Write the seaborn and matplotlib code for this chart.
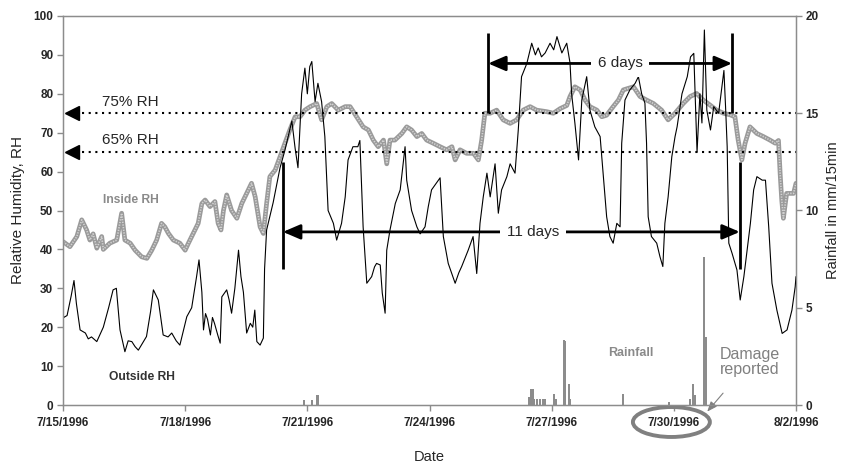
import matplotlib
matplotlib.use("Agg")
import matplotlib.pyplot as plt
from matplotlib.patches import Ellipse
from matplotlib.transforms import blended_transform_factory
import pandas as pd
import seaborn as sns

# ---------------------------------------------------------------------------
# Data (time axis = days elapsed since 7/15/1996 00:00)
# ---------------------------------------------------------------------------
outside_day = [
    0.00, 0.10, 0.20, 0.27, 0.33, 0.42, 0.55, 0.62, 0.70, 0.83, 0.99, 1.12, 1.23,
    1.31, 1.40, 1.52, 1.60, 1.69, 1.77, 1.85, 2.05, 2.15, 2.22, 2.34, 2.46, 2.58,
    2.67, 2.78, 2.87, 3.04, 3.16, 3.28, 3.34, 3.41, 3.45, 3.50, 3.55, 3.62, 3.67,
    3.72, 3.80, 3.86, 3.90, 4.02, 4.08, 4.14, 4.22, 4.31, 4.37, 4.43, 4.51, 4.60,
    4.66, 4.71, 4.76, 4.84, 4.92, 4.95, 5.00, 5.16, 5.33, 5.45, 5.62, 5.70, 5.77,
    5.86, 5.94, 6.00, 6.06, 6.11, 6.19, 6.26, 6.35, 6.43, 6.51, 6.64, 6.72, 6.84,
    6.93, 7.00, 7.12, 7.24, 7.29, 7.37, 7.46, 7.58, 7.65, 7.70, 7.79, 7.84, 7.91,
    7.95, 8.03, 8.16, 8.28, 8.40, 8.44, 8.56, 8.69, 8.77, 8.89, 8.97, 9.05, 9.26,
    9.34, 9.46, 9.63, 9.72, 9.79, 9.95, 10.07, 10.16, 10.24, 10.32, 10.41, 10.49,
    10.61, 10.69, 10.77, 10.90, 10.98, 11.10, 11.18, 11.26, 11.39, 11.51, 11.60,
    11.67, 11.75, 11.84, 11.96, 12.05, 12.13, 12.25, 12.37, 12.45, 12.49, 12.57,
    12.66, 12.74, 12.86, 12.94, 13.06, 13.19, 13.27, 13.35, 13.43, 13.51, 13.60,
    13.68, 13.72, 13.80, 13.92, 14.05, 14.13, 14.21, 14.29, 14.33, 14.37, 14.45,
    14.58, 14.66, 14.73, 14.78, 14.86, 14.95, 15.03, 15.08, 15.20, 15.33, 15.41,
    15.49, 15.57, 15.64, 15.69, 15.75, 15.81, 15.90, 15.98, 16.10, 16.23, 16.27,
    16.31, 16.35, 16.43, 16.55, 16.63, 16.72, 16.80, 16.88, 16.96, 17.04, 17.17,
    17.25, 17.33, 17.41, 17.53, 17.66, 17.78, 17.90, 17.98, 18.00,
]
outside_rh = [
    22.4, 23.0, 28.0, 32.0, 26.0, 19.3, 18.5, 17.0, 17.5, 16.3, 20.0, 25.0, 29.6,
    30.0, 19.3, 13.7, 16.5, 16.3, 15.0, 14.1, 17.6, 24.0, 29.6, 27.0, 18.0, 17.5,
    18.5, 16.5, 15.4, 22.7, 25.0, 33.0, 37.3, 29.0, 19.3, 23.5, 22.0, 18.0, 22.5,
    21.0, 18.0, 15.9, 27.8, 29.6, 27.0, 23.6, 30.0, 39.8, 33.0, 29.0, 18.5, 21.0,
    20.0, 24.4, 16.3, 15.4, 17.2, 35.0, 45.0, 52.0, 61.0, 65.5, 73.0, 66.0, 61.0,
    80.0, 86.6, 80.0, 87.0, 88.3, 78.0, 82.7, 78.0, 69.0, 50.0, 46.7, 42.4, 46.7,
    53.5, 63.0, 66.4, 66.4, 68.0, 45.8, 31.3, 33.0, 35.5, 36.4, 36.0, 28.8, 23.6,
    39.8, 45.0, 51.8, 55.3, 66.4, 57.8, 50.0, 45.8, 44.0, 45.8, 51.0, 55.3, 58.4,
    43.3, 36.4, 31.3, 34.0, 35.6, 39.8, 43.3, 33.8, 46.7, 53.5, 59.6, 53.5,
    62.0, 49.3, 55.3, 58.7, 62.0, 59.6, 70.7, 84.4, 87.8, 93.0, 90.0,
    91.8, 89.5, 90.5, 93.0, 91.3, 94.7, 90.5, 93.0, 88.0, 80.0, 72.5,
    63.0, 78.4, 84.4, 75.8, 71.5, 69.0, 58.7, 48.4, 43.3, 41.6, 46.7,
    45.8, 67.3, 78.4, 81.0, 82.7, 84.4, 80.0, 77.6, 67.3, 48.4, 43.3,
    41.6, 38.1, 35.6, 46.7, 53.5, 63.8, 69.0, 71.5, 80.0, 84.4, 89.5,
    90.4, 65.0, 80.0, 72.5, 96.4, 75.8, 70.7, 76.7, 75.0, 86.0, 76.7,
    66.4, 41.6, 39.0, 34.7, 27.0, 33.0, 39.8, 46.7, 55.3, 58.7, 57.8,
    57.8, 45.8, 31.3, 24.4, 18.4, 19.3, 24.4, 30.4, 33.0,
]

inside_day = [
    0.00, 0.17, 0.34, 0.46, 0.58, 0.66, 0.74, 0.83, 0.95, 0.99, 1.15, 1.32, 1.44,
    1.52, 1.65, 1.77, 1.93, 2.06, 2.18, 2.30, 2.42, 2.50, 2.59, 2.71, 2.87, 3.00,
    3.08, 3.16, 3.32, 3.41, 3.49, 3.61, 3.73, 3.81, 3.88, 3.94, 4.02, 4.14, 4.27,
    4.39, 4.51, 4.63, 4.72, 4.84, 4.92, 5.00, 5.08, 5.21, 5.33, 5.45, 5.57, 5.70,
    5.82, 5.94, 6.07, 6.23, 6.35, 6.48, 6.60, 6.76, 6.93, 7.05, 7.21, 7.37, 7.50,
    7.62, 7.74, 7.87, 7.95, 8.03, 8.15, 8.32, 8.44, 8.56, 8.69, 8.81, 8.93, 9.09,
    9.26, 9.42, 9.55, 9.63, 9.75, 9.91, 10.08, 10.20, 10.28, 10.36, 10.49, 10.65,
    10.81, 10.98, 11.14, 11.30, 11.47, 11.63, 11.88, 12.04, 12.21, 12.37, 12.45,
    12.57, 12.70, 12.82, 12.94, 13.11, 13.23, 13.35, 13.51, 13.64, 13.76, 13.88,
    14.01, 14.17, 14.33, 14.50, 14.70, 14.86, 15.03, 15.23, 15.40, 15.56, 15.72,
    15.89, 16.05, 16.22, 16.38, 16.50, 16.58, 16.67, 16.75, 16.87, 17.04, 17.20,
    17.36, 17.49, 17.57, 17.61, 17.65, 17.69, 17.77, 17.94, 18.00,
]
inside_rh = [
    42.0, 40.7, 43.3, 47.6, 45.0, 42.4, 44.0, 40.3, 43.3, 40.0, 41.6, 42.4, 49.3,
    42.4, 41.6, 39.8, 38.1, 37.7, 39.8, 42.4, 46.7, 45.8, 44.1, 42.4, 41.6, 39.8,
    41.6, 43.3, 46.7, 51.8, 52.7, 51.0, 52.3, 46.7, 45.0, 50.0, 54.0, 50.0, 48.0,
    51.8, 54.4, 57.0, 53.5, 45.8, 44.1, 51.8, 58.7, 60.4, 63.8, 67.3, 70.7, 74.1,
    74.1, 75.8, 76.7, 77.5, 73.3, 76.7, 77.5, 75.8, 76.7, 76.7, 74.1, 71.5, 70.7,
    68.1, 66.4, 68.1, 62.0, 68.1, 68.1, 69.8, 71.5, 70.7, 69.0, 69.8, 68.1, 67.3,
    66.4, 65.6, 66.4, 63.0, 65.6, 64.7, 64.7, 63.0, 68.0, 75.0, 75.0, 75.8,
    73.3, 72.4, 73.3, 75.8, 76.7, 75.8, 75.4, 75.0, 76.2, 77.0, 79.3,
    81.8, 81.0, 78.4, 76.7, 75.8, 74.1, 74.5, 76.7, 78.4, 81.0, 81.4,
    81.8, 79.3, 78.4, 77.5, 75.8, 73.3, 75.0, 77.5, 79.3, 80.1, 78.4,
    77.1, 75.8, 75.0, 74.6, 74.1, 68.1, 63.0, 67.3, 71.5, 69.8, 69.0,
    68.1, 67.3, 68.0, 59.6, 52.7, 48.0, 54.4, 54.4, 57.0,
]

rain_day = [5.92, 6.11, 6.25, 11.44, 11.49, 11.53, 11.57, 11.64, 11.71, 11.78,
            11.84, 12.06, 12.11, 12.31, 12.33, 12.42, 12.45, 13.74, 14.89,
            15.40, 15.47, 15.52, 15.75, 15.78]
rain_mm = [0.26, 0.26, 0.50, 0.40, 0.80, 0.80, 0.30, 0.30, 0.30, 0.30,
           0.30, 0.55, 0.30, 3.34, 3.30, 1.08, 0.30, 0.56, 0.15,
           0.30, 1.08, 0.50, 7.60, 3.50]

date_ticks = [0, 3, 6, 9, 12, 15, 18]
date_labels = ["7/15/1996", "7/18/1996", "7/21/1996", "7/24/1996",
               "7/27/1996", "7/30/1996", "8/2/1996"]
rh_levels = [75, 65]
rh_level_labels = ["75% RH", "65% RH"]

outside = pd.DataFrame({"day": outside_day, "rh": outside_rh})
inside = pd.DataFrame({"day": inside_day, "rh": inside_rh})
rain = pd.DataFrame({"day": rain_day, "mm": rain_mm})

# ---------------------------------------------------------------------------
# Style
# ---------------------------------------------------------------------------
sns.set_style("white")
plt.rcParams["font.family"] = ["Liberation Sans", "DejaVu Sans"]
SPINE = "#8c8c8c"
GREY_TXT = "#8a8a8a"

fig = plt.figure(figsize=(8.44, 4.67), dpi=100)
ax = fig.add_axes([63 / 844, 62 / 467, 733 / 844, 389 / 467])

# Relative humidity curves (inside RH drawn as a thick stippled band)
sns.lineplot(data=inside, x="day", y="rh", ax=ax, color="#9a9a9a",
             linewidth=3.4, estimator=None, sort=False, zorder=3)
sns.lineplot(data=inside, x="day", y="rh", ax=ax, color="#d2d2d2",
             linewidth=1.2, linestyle=(0, (0.8, 0.8)), estimator=None,
             sort=False, zorder=3.1)
sns.lineplot(data=outside, x="day", y="rh", ax=ax, color="black",
             linewidth=0.8, estimator=None, sort=False, zorder=4)

ax.set_xlim(0, 18)
ax.set_ylim(0, 100)
ax.set_xticks(date_ticks)
ax.set_xticklabels(date_labels)
ax.set_yticks(range(0, 101, 10))
ax.set_xlabel("Date", fontsize=10.5, labelpad=15)
ax.set_ylabel("Relative Humidity, RH", fontsize=11, labelpad=6)

for side in ["left", "right", "top", "bottom"]:
    ax.spines[side].set_visible(True)
    ax.spines[side].set_color(SPINE)
    ax.spines[side].set_linewidth(1.0)
ax.tick_params(axis="both", direction="out", length=4, width=1, color=SPINE,
               labelsize=8.5)
ax.tick_params(axis="x", pad=5)
ax.tick_params(axis="y", pad=3, left=True)
ax.tick_params(axis="x", bottom=True)
for lab in ax.get_xticklabels() + ax.get_yticklabels():
    lab.set_fontweight("bold")

# Threshold lines with left-pointing arrowheads
for level, text in zip(rh_levels, rh_level_labels):
    ax.plot([0.47, 18], [level, level], color="black", linewidth=1.5,
            linestyle=(0, (1, 2.2)), zorder=5)
    ax.plot([0.21], [level], marker="<", markersize=9.5, color="black",
            zorder=6, clip_on=False)
    ax.text(1.645, level + 3.0, text, fontsize=11, ha="center", va="center",
            zorder=6)

# "6 days" span
six_start, six_end, six_y = 10.44, 16.43, 87.8
ax.vlines([six_start, six_end], 75, 95.6, color="black", linewidth=2, zorder=6)
ax.annotate("", xy=(six_start, six_y), xytext=(six_end, six_y),
            arrowprops=dict(arrowstyle="<|-|>,head_length=0.7,head_width=0.3",
                            color="black", lw=2, mutation_scale=15,
                            shrinkA=0, shrinkB=0), zorder=6)
ax.text(13.68, six_y, "6 days", fontsize=11, ha="center", va="center",
        bbox=dict(boxstyle="square,pad=0.45", fc="white", ec="none"), zorder=7)

# "11 days" span
el_start, el_end, el_y = 5.40, 16.62, 44.5
ax.vlines([el_start, el_end], 35, 62.5, color="black", linewidth=2, zorder=6)
ax.annotate("", xy=(el_start, el_y), xytext=(el_end, el_y),
            arrowprops=dict(arrowstyle="<|-|>,head_length=0.7,head_width=0.3",
                            color="black", lw=2, mutation_scale=15,
                            shrinkA=0, shrinkB=0), zorder=6)
ax.text(11.55, el_y, "11 days", fontsize=11, ha="center", va="center",
        bbox=dict(boxstyle="square,pad=0.45", fc="white", ec="none"), zorder=7)

# Series labels
ax.text(1.66, 52.7, "Inside RH", fontsize=8.7, fontweight="bold",
        color=GREY_TXT, ha="center", va="center", zorder=6)
ax.text(1.93, 7.3, "Outside RH", fontsize=8.7, fontweight="bold",
        color="#333333", ha="center", va="center", zorder=6)

# Rainfall on the secondary axis
ax2 = ax.twinx()
ax2.bar(rain["day"], rain["mm"], width=0.05, color="#8c8c8c", linewidth=0,
        zorder=3)
ax2.set_ylim(0, 20)
ax2.set_yticks([0, 5, 10, 15, 20])
ax2.set_ylabel("Rainfall in mm/15min", fontsize=10.5, labelpad=5)
ax2.tick_params(axis="y", direction="out", length=4, width=1, color=SPINE,
                labelsize=8.5, pad=3, right=True)
for lab in ax2.get_yticklabels():
    lab.set_fontweight("bold")
for side in ["left", "right", "top", "bottom"]:
    ax2.spines[side].set_color(SPINE)
ax2.grid(False)
ax2.text(13.95, 2.66, "Rainfall", fontsize=9, fontweight="bold",
         color=GREY_TXT, ha="center", va="center")

# Damage report marker around the 7/30 date label
below = blended_transform_factory(ax.transData, ax.transAxes)
ax.add_patch(Ellipse((14.94, -0.0437), 1.89, 0.077, transform=below,
                     fill=False, edgecolor="#808080", linewidth=2.8,
                     clip_on=False, zorder=8))
ax.annotate("Damage\nreported", xy=(15.82, -0.017), xycoords=("data", "axes fraction"),
            xytext=(16.86, 11.0), textcoords="data", fontsize=11.5,
            color="#808080", ha="center", va="center", linespacing=1.0,
            arrowprops=dict(arrowstyle="-|>,head_length=0.5,head_width=0.2",
                            color="#808080", lw=0.8, mutation_scale=12,
                            shrinkA=12, shrinkB=0),
            annotation_clip=False, zorder=8)

fig.savefig("out.png", dpi=100)
